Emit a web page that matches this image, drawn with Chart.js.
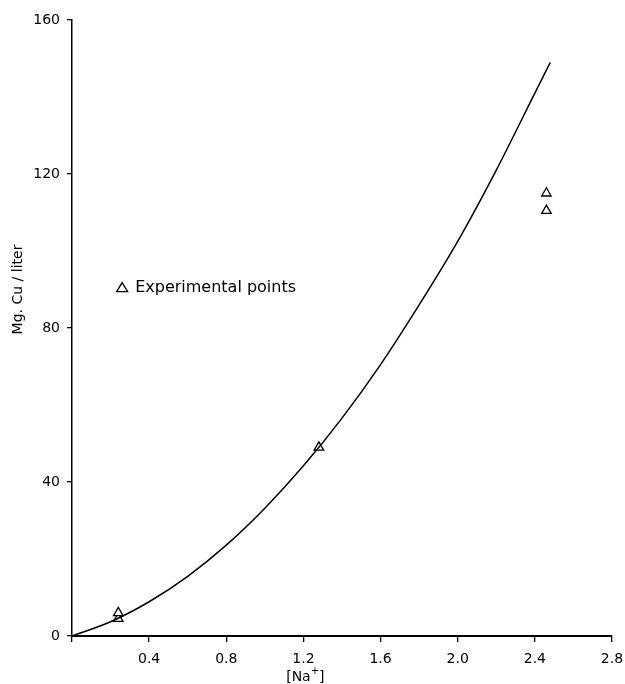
<!DOCTYPE html>
<html>
<head>
<meta charset="utf-8">
<script src="https://cdn.jsdelivr.net/npm/chart.js@4/dist/chart.umd.min.js"></script>
<style>
  html, body { margin: 0; padding: 0; background: #fff; }
  #wrap { width: 625px; height: 684px; }
</style>
</head>
<body>
<div id="wrap"><canvas id="chart" width="625" height="684"></canvas></div>
<script>
// curve
const curveX = [0, 0.2, 0.4, 0.6, 0.8, 1.0, 1.2, 1.4, 1.6, 1.8, 2.0, 2.2, 2.4, 2.48];
const curveY = [0, 3.7, 8.9, 15.5, 23.6, 33.2, 44.2, 56.6, 70.5, 86, 102.5, 121, 141, 149];

// experimental points
const expX = [0.24, 0.24, 1.28, 2.46, 2.46];
const expY = [4.5, 6, 49, 115, 110.5];

const xTicks = [0, 0.4, 0.8, 1.2, 1.6, 2.0, 2.4, 2.8];
const yTicks = [0, 40, 80, 120, 160];

const FONT = '"DejaVu Sans", sans-serif';

const annotations = {
  id: 'annotations',
  afterDraw(chart) {
    const ctx = chart.ctx;
    const xs = chart.scales.x, ys = chart.scales.y;
    ctx.save();
    ctx.fillStyle = '#000';
    ctx.strokeStyle = '#000';

    // note inside the plot
    const lx = xs.getPixelForValue(0.26), ly = ys.getPixelForValue(90.5);
    ctx.lineWidth = 1.3;
    ctx.beginPath();
    ctx.moveTo(lx, ly - 5);
    ctx.lineTo(lx + 5.5, ly + 4);
    ctx.lineTo(lx - 5.5, ly + 4);
    ctx.closePath();
    ctx.stroke();
    ctx.font = '16px ' + FONT;
    ctx.textBaseline = 'middle';
    ctx.textAlign = 'left';
    ctx.fillText('Experimental points', lx + 13, ly);

    // y title
    ctx.font = '14px ' + FONT;
    ctx.translate(18, ys.getPixelForValue(90));
    ctx.rotate(-Math.PI / 2);
    ctx.textAlign = 'center';
    ctx.fillText('Mg. Cu / liter', 0, 0);
    ctx.setTransform(1, 0, 0, 1, 0, 0);

    // x title with superscript
    const tx = xs.getPixelForValue(1.21), ty = 677;
    ctx.textAlign = 'left';
    const a = '[Na', b = ']';
    ctx.font = '14px ' + FONT;
    const wa = ctx.measureText(a).width;
    ctx.font = '10px ' + FONT;
    const wp = ctx.measureText('+').width;
    ctx.font = '14px ' + FONT;
    const wb = ctx.measureText(b).width;
    const start = tx - (wa + wp + wb) / 2;
    ctx.fillText(a, start, ty);
    ctx.font = '10px ' + FONT;
    ctx.fillText('+', start + wa, ty - 6);
    ctx.font = '14px ' + FONT;
    ctx.fillText(b, start + wa + wp, ty);
    ctx.restore();
  }
};

new Chart(document.getElementById('chart'), {
  type: 'scatter',
  data: {
    datasets: [
      {
        label: 'Curve',
        data: curveX.map((x, i) => ({ x: x, y: curveY[i] })),
        showLine: true,
        borderColor: '#000',
        borderWidth: 1.5,
        pointRadius: 0,
        cubicInterpolationMode: 'monotone',
        fill: false
      },
      {
        label: 'Experimental points',
        data: expX.map((x, i) => ({ x: x, y: expY[i] })),
        pointStyle: 'triangle',
        pointRadius: 5.5,
        pointBorderWidth: 1.3,
        pointBorderColor: '#000',
        pointBackgroundColor: '#fff'
      }
    ]
  },
  options: {
    responsive: false,
    animation: false,
    layout: { padding: { top: 20, right: 13, left: 0, bottom: 0 } },
    plugins: { legend: { display: false }, tooltip: { enabled: false } },
    scales: {
      x: {
        type: 'linear',
        min: 0, max: 2.8,
        afterBuildTicks: s => { s.ticks = xTicks.map(v => ({ value: v })); },
        afterFit: s => { s.height = 48; s.paddingRight = 0; s.paddingLeft = 0; },
        grid: { drawOnChartArea: false, drawTicks: true, tickLength: 6, color: '#000', lineWidth: 1.3 },
        border: { color: '#000', width: 2 },
        ticks: {
          color: '#000',
          font: { family: FONT, size: 14 },
          padding: 9,
          maxRotation: 0,
          callback: v => v === 0 ? '' : v.toFixed(1)
        }
      },
      y: {
        type: 'linear',
        min: 0, max: 160,
        afterBuildTicks: s => { s.ticks = yTicks.map(v => ({ value: v })); },
        afterFit: s => { s.width = 72; s.paddingTop = 0; s.paddingBottom = 0; },
        grid: { drawOnChartArea: false, drawTicks: true, tickLength: 5, color: '#000', lineWidth: 1.3 },
        border: { color: '#000', width: 1.5 },
        ticks: {
          color: '#000',
          font: { family: FONT, size: 14 },
          padding: 7
        }
      }
    }
  },
  plugins: [annotations]
});
</script>
</body>
</html>
